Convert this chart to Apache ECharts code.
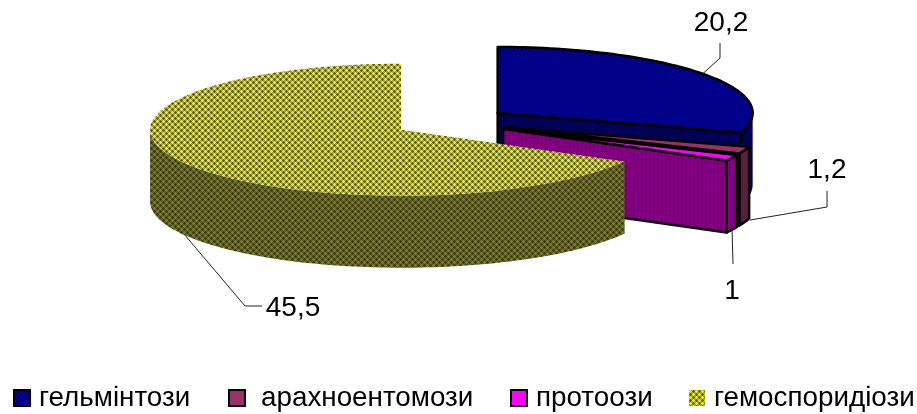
<!DOCTYPE html>
<html>
<head>
<meta charset="utf-8">
<style>html,body{margin:0;padding:0;background:#fff}#chart{width:917px;height:414px}</style>
<script src="https://cdn.jsdelivr.net/npm/echarts@6/dist/echarts.min.js"></script>
</head>
<body>
<div id="chart"></div>
<script>
// Exploded 3D pie of parasitic disease groups, drawn with custom series.
const categories = ['гельмінтози', 'арахноентомози', 'протоози', 'гемоспоридіози'];
const values = [20.2, 1.2, 1, 45.5];

// Projection of the pie disc on screen; the right half sits slightly closer to the viewer.
const pie = { cx: 451, cy: 122, rxLeft: 251, rxRight: 255, rx: 253, ry: 66, depth: 72, explode: 58 };

const FONT = '"Liberation Sans", Arial, sans-serif';

// Builds a repeating fill from rows of palette keys.
function tile(rows, palette) {
  const c = document.createElement('canvas');
  c.width = rows[0].length;
  c.height = rows.length;
  const g = c.getContext('2d');
  rows.forEach((row, y) => {
    for (let x = 0; x < row.length; x++) {
      g.fillStyle = palette[row[x]];
      g.fillRect(x, y, 1, 1);
    }
  });
  return { image: c, repeat: 'repeat' };
}

const stripes = ['aabb', 'abba', 'bbaa', 'baab'];
const dots = ['aaaa', 'abaa', 'aaaa', 'aaba'];
const trellis = ['mymmdm', 'yyydDd', 'mymmdm', 'mdmmym', 'dDdyyy', 'mdmmym'];

const fills = [
  {
    top: tile(stripes, { a: '#0000a4', b: '#00006c' }),
    side: tile(stripes, { a: '#000066', b: '#000044' })
  },
  { top: '#993366', side: '#5a1f3e' },
  {
    top: '#ff00ff',
    side: tile(dots, { a: '#800080', b: '#5c005c' })
  },
  {
    top: tile(trellis, { y: '#ecec30', m: '#a8a82a', d: '#66661a', D: '#4a4a12' }),
    side: tile(trellis, { y: '#7e7e28', m: '#5e5e1c', d: '#3e3e10', D: '#33330d' })
  }
];
const swatches = [fills[0].top, '#993366', '#ff00ff', fills[3].top];
const outlined = [true, true, true, false];

// Leader lines run from a slice's outer rim to its value label.
const leaders = [
  { rim: 'top', path: [[720, 58], [720, 43]], text: [721, 23] },
  { rim: 'bottom', shift: [5, -2], path: [[827, 207], [827, 191]], text: [827, 170] },
  { rim: 'bottom', path: [[733, 264]], text: [732, 291] },
  { rim: 'bottom', path: [[245, 306], [262, 306]], text: [293, 308] }
];

const legendSpots = [
  { icon: 13, top: 384, gap: 4 },
  { icon: 228, top: 384, gap: 11 },
  { icon: 510, top: 384, gap: 4 },
  { icon: 689, top: 384, gap: 4 }
];

const total = values.reduce((a, b) => a + b, 0);
const DEG = Math.PI / 180;

function sliceAngles(i) {
  let before = 0;
  for (let k = 0; k < i; k++) before += values[k];
  return [before / total * 360, (before + values[i]) / total * 360];
}

// Angle is clockwise from twelve o'clock; returns the screen point on the top face.
function point(origin, deg, depth) {
  const s = Math.sin(deg * DEG);
  return [
    origin[0] + (s > 0 ? pie.rxRight : pie.rxLeft) * s,
    origin[1] - pie.ry * Math.cos(deg * DEG) + (depth || 0)
  ];
}

function arc(origin, from, to, depth) {
  const pts = [];
  const n = Math.max(2, Math.ceil(Math.abs(to - from) / 1.5));
  for (let i = 0; i <= n; i++) pts.push(point(origin, from + (to - from) * i / n, depth));
  return pts;
}

function renderSlice(params, api) {
  const i = params.seriesIndex;
  const value = api.value(0);
  const [start, end] = sliceAngles(i);
  const mid = (start + end) / 2;
  const origin = [
    pie.cx + pie.explode * Math.sin(mid * DEG),
    pie.cy - pie.explode * pie.ry / pie.rx * Math.cos(mid * DEG)
  ];
  const fill = fills[i];
  const line = outlined[i] ? { stroke: '#000', lineWidth: 2.5, lineJoin: 'round' } : { stroke: null };
  const children = [];

  // Outer wall: only the part of the rim that faces the viewer.
  const wallFrom = Math.max(start, 90);
  const wallTo = Math.min(end, 270);
  if (wallTo > wallFrom) {
    const topEdge = arc(origin, wallFrom, wallTo, 0);
    const lowEdge = arc(origin, wallTo, wallFrom, pie.depth);
    children.push({
      type: 'polygon',
      shape: { points: topEdge.concat(lowEdge) },
      style: Object.assign({ fill: fill.side }, i === 0 ? { stroke: null } : line)
    });
  }

  // Cut face at the slice's clockwise end, visible on the right-hand front.
  if (end > 90 && end < 180) {
    const rim = point(origin, end, 0);
    children.push({
      type: 'polygon',
      shape: {
        points: [origin, rim, [rim[0], rim[1] + pie.depth], [origin[0], origin[1] + pie.depth]]
      },
      style: Object.assign({ fill: fill.side }, line)
    });
  }

  // Top face.
  children.push({
    type: 'polygon',
    shape: { points: [origin].concat(arc(origin, start, end, 0)) },
    style: Object.assign({ fill: fill.top }, line)
  });

  // Leader line and value label.
  const lead = leaders[i];
  const shift = lead.shift || [0, 0];
  const anchor = point(origin, mid, lead.rim === 'bottom' ? pie.depth : 0);
  children.push({
    type: 'polyline',
    z2: 5,
    shape: { points: [[anchor[0] + shift[0], anchor[1] + shift[1]]].concat(lead.path) },
    style: { fill: null, stroke: '#222', lineWidth: 1 }
  });
  children.push({
    type: 'text',
    z2: 6,
    style: {
      x: lead.text[0],
      y: lead.text[1],
      text: String(value).replace('.', ','),
      font: '28px ' + FONT,
      fill: '#000',
      align: 'center',
      verticalAlign: 'middle'
    }
  });

  return { type: 'group', children };
}

const chart = echarts.init(document.getElementById('chart'), null, { renderer: 'canvas' });

chart.setOption({
  animation: false,
  backgroundColor: '#fff',
  legend: categories.map((name, i) => ({
    left: legendSpots[i].icon,
    top: legendSpots[i].top,
    orient: 'horizontal',
    selectedMode: false,
    padding: 0,
    itemWidth: 16,
    itemHeight: 16,
    itemGap: 0,
    icon: 'rect',
    textStyle: {
      fontFamily: FONT,
      fontSize: 27.8,
      color: '#000',
      padding: [0, 0, 0, legendSpots[i].gap]
    },
    data: [{
      name,
      itemStyle: {
        color: swatches[i],
        borderColor: outlined[i] ? '#000' : 'transparent',
        borderWidth: outlined[i] ? 2 : 0
      }
    }]
  })),
  series: categories.map((name, i) => ({
    type: 'custom',
    name,
    coordinateSystem: 'none',
    silent: true,
    z: 2 + i,
    data: [values[i]],
    renderItem: renderSlice
  }))
});
</script>
</body>
</html>
